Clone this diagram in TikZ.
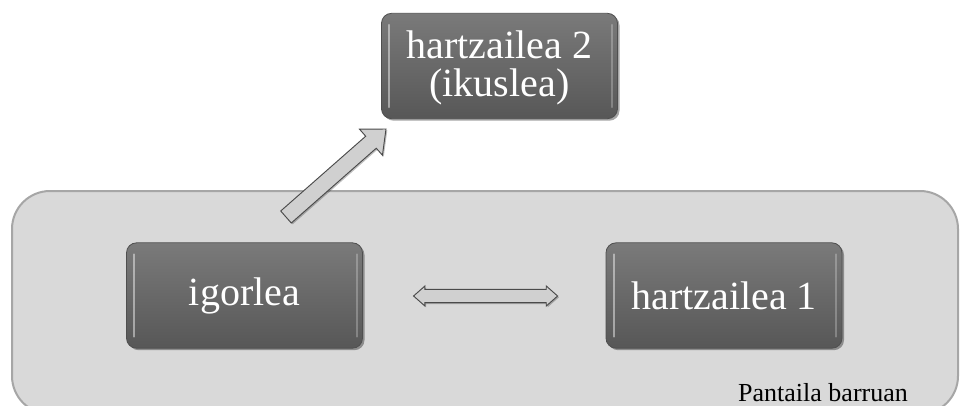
\documentclass[tikz,border=0pt]{standalone}
\usepackage{fontspec}
\setmainfont{Liberation Serif}
\usetikzlibrary{calc,shadows,shadings}
\definecolor{panelfill}{HTML}{D9D9D9}
\definecolor{paneledge}{HTML}{A6A6A6}
\definecolor{boxtop}{HTML}{7A7A7A}
\definecolor{boxbot}{HTML}{575757}
\definecolor{boxedge}{HTML}{4F4F4F}
\definecolor{arrowfill}{HTML}{D0D0D0}
\definecolor{arrowedge}{HTML}{4A4A4A}
\tikzset{
  panel/.style={rounded corners=28.5pt, fill=panelfill, draw=paneledge, line width=1.5pt},
  darkbox/.style={rounded corners=7.5pt, top color=boxtop, bottom color=boxbot,
    draw=boxedge, line width=0.6pt, minimum width=177pt, minimum height=79pt,
    text=white, font=\fontsize{30}{28.5}\selectfont, align=center, inner sep=0pt,
    drop shadow={shadow xshift=1.5pt, shadow yshift=-1.5pt, opacity=0.35, fill=black}},
  shine/.style={line width=1.6pt, draw=white, opacity=0.45, line cap=round},
  blockarrow/.style={fill=arrowfill, draw=arrowedge, line width=0.7pt, line join=miter,
    drop shadow={shadow xshift=1pt, shadow yshift=-1pt, opacity=0.25, fill=black}},
  caption/.style={font=\fontsize{19.5}{22}\selectfont, anchor=base, inner sep=0pt}
}
\begin{document}
\begin{tikzpicture}[x=0.75pt,y=-0.75pt]
\useasboundingbox (0,0) rectangle (960,405);
% panel
\begin{scope}
\clip (0,0) rectangle (960,405);
\draw[panel] (12,191) rectangle (958,414);
\end{scope}
% boxes
\node[darkbox] (ig) at (244.5,295.5) {\raisebox{-1.5pt}{igorlea}};
\node[darkbox] (h1) at (724,295.5) {hartzailea 1};
\node[darkbox] (h2) at (499.5,66) {\rule{0pt}{24pt}hartzailea 2\\(ikuslea)};
% highlights
\foreach \n in {ig,h1,h2}{
  \draw[shine] ($(\n.north west)+(6pt,-9pt)$) -- ($(\n.south west)+(6pt,9pt)$);
  \draw[shine,opacity=0.25] ($(\n.north east)+(-4.5pt,-9pt)$) -- ($(\n.south east)+(-4.5pt,9pt)$);
}
% diagonal arrow igorlea -> hartzailea 2
\coordinate (a) at (286,217);
\coordinate (b) at (386,129);
\coordinate (hc) at ($(b)!15pt!(a)$);
\draw[blockarrow]
  ($(a)!6pt!90:(b)$) -- ($(hc)!6pt!90:(b)$) -- ($(hc)!13pt!90:(b)$) -- (b)
  -- ($(hc)!13pt!-90:(b)$) -- ($(hc)!6pt!-90:(b)$) -- ($(a)!6pt!-90:(b)$) -- cycle;
% double arrow igorlea <-> hartzailea 1
\coordinate (l) at ($(ig.east)+(38pt,0.5)$);
\coordinate (r) at ($(h1.west)+(-36pt,0.5)$);
\coordinate (lh) at ($(l)!8.5pt!(r)$);
\coordinate (rh) at ($(r)!8.5pt!(l)$);
\draw[blockarrow]
  (l) -- ($(lh)!7.5pt!90:(r)$) -- ($(lh)!5pt!90:(r)$) -- ($(rh)!5pt!-90:(l)$)
  -- ($(rh)!7.5pt!-90:(l)$) -- (r) -- ($(rh)!7.5pt!90:(l)$) -- ($(rh)!5pt!90:(l)$)
  -- ($(lh)!5pt!-90:(r)$) -- ($(lh)!7.5pt!-90:(r)$) -- cycle;
% caption
\node[caption] (cap) at (823,401) {Pantaila barruan};
\end{tikzpicture}
\end{document}
